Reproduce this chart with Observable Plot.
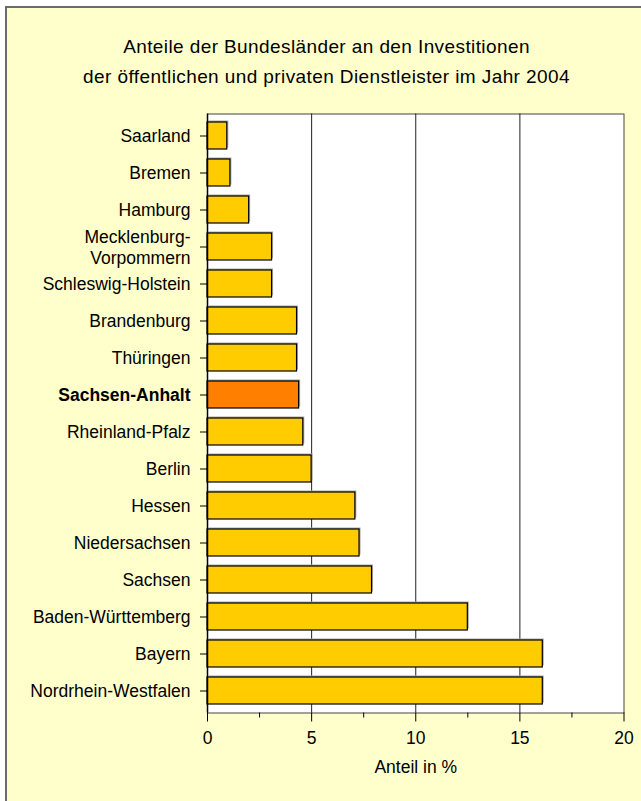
<!DOCTYPE html>
<html>
<head>
<meta charset="utf-8">
<script src="https://cdn.jsdelivr.net/npm/d3@7"></script>
<script src="https://cdn.jsdelivr.net/npm/@observablehq/plot@0.6"></script>
<style>
  html, body { margin: 0; padding: 0; background: #ffffff; width: 641px; height: 801px; overflow: hidden; }
  #panel { position: absolute; left: 5px; top: 6px; width: 700px; height: 900px; background: #FFFFCC;
           border-left: 2px solid #6b6b6b; border-top: 2px solid #6b6b6b; }
  #title { position: absolute; left: 7px; top: 32px; width: 639px; text-align: center;
           font-family: "Liberation Sans", Arial, sans-serif; font-size: 19px; line-height: 30px;
           letter-spacing: 0.4px; color: #000; }
  #chart { position: absolute; left: 0; top: 100px; }
</style>
</head>
<body>
<div id="panel"></div>
<div id="title">Anteile der Bundesländer an den Investitionen<br>der öffentlichen und privaten Dienstleister im Jahr 2004</div>
<div id="chart"></div>
<script>
const laender = ["Saarland", "Bremen", "Hamburg", "Mecklenburg-\nVorpommern", "Schleswig-Holstein",
  "Brandenburg", "Thüringen", "Sachsen-Anhalt", "Rheinland-Pfalz", "Berlin", "Hessen",
  "Niedersachsen", "Sachsen", "Baden-Württemberg", "Bayern", "Nordrhein-Westfalen"];
const anteile = [0.95, 1.1, 2.0, 3.1, 3.1, 4.3, 4.3, 4.4, 4.6, 5.0, 7.1, 7.3, 7.9, 12.5, 16.1, 16.1];
const highlight = "Sachsen-Anhalt";
const majorTicks = [0, 5, 10, 15, 20];
const minorTicks = [2.5, 7.5, 12.5, 17.5];
const gridTicks = [5, 10, 15];
const xLabel = "Anteil in %";

const data = laender.map((land, i) => ({land, anteil: anteile[i]}));
const font = "Liberation Sans, Arial, sans-serif";

const plot = Plot.plot({
  width: 641,
  height: 701,
  marginLeft: 207,
  marginRight: 17.5,
  marginTop: 13.5,
  marginBottom: 88.5,
  style: {background: "transparent", fontFamily: font, fontSize: "17.5px", color: "#000"},
  x: {domain: [0, 20]},
  y: {domain: laender, paddingInner: 0.27, paddingOuter: 0.135},
  marks: [
    Plot.frame({fill: "white", stroke: "#444", strokeWidth: 1}),
    Plot.ruleX(gridTicks, {stroke: "#222", strokeWidth: 1}),
    Plot.barX(data, {x: "anteil", y: "land", fill: "#a8a8a8", dx: 1.5, dy: -1.5}),
    Plot.barX(data, {x: "anteil", y: "land", fill: d => d.land === highlight ? "#FF8000" : "#FFCC00", stroke: "#000", strokeWidth: 1.2}),
    Plot.ruleX([0], {stroke: "#000", strokeWidth: 1.5}),
    Plot.axisY({ticks: laender.filter(d => d !== highlight), tickSize: 7, tickPadding: 10, label: null, lineHeight: 1.15, fontSize: 17.5, fill: "#000"}),
    Plot.axisY({ticks: [highlight], tickSize: 7, tickPadding: 10, label: null, fontWeight: "bold", fontSize: 17.5, fill: "#000"}),
    Plot.axisX({ticks: majorTicks, tickSize: 9, tickPadding: 10, label: null, fontSize: 17.5, fill: "#000"}),
    Plot.axisX({ticks: minorTicks, tickSize: 5, tickFormat: () => "", label: null}),
    Plot.text([xLabel], {frameAnchor: "bottom", dy: 60, fontSize: 17.5, fill: "#000"})
  ]
});
document.getElementById("chart").appendChild(plot);
</script>
</body>
</html>
